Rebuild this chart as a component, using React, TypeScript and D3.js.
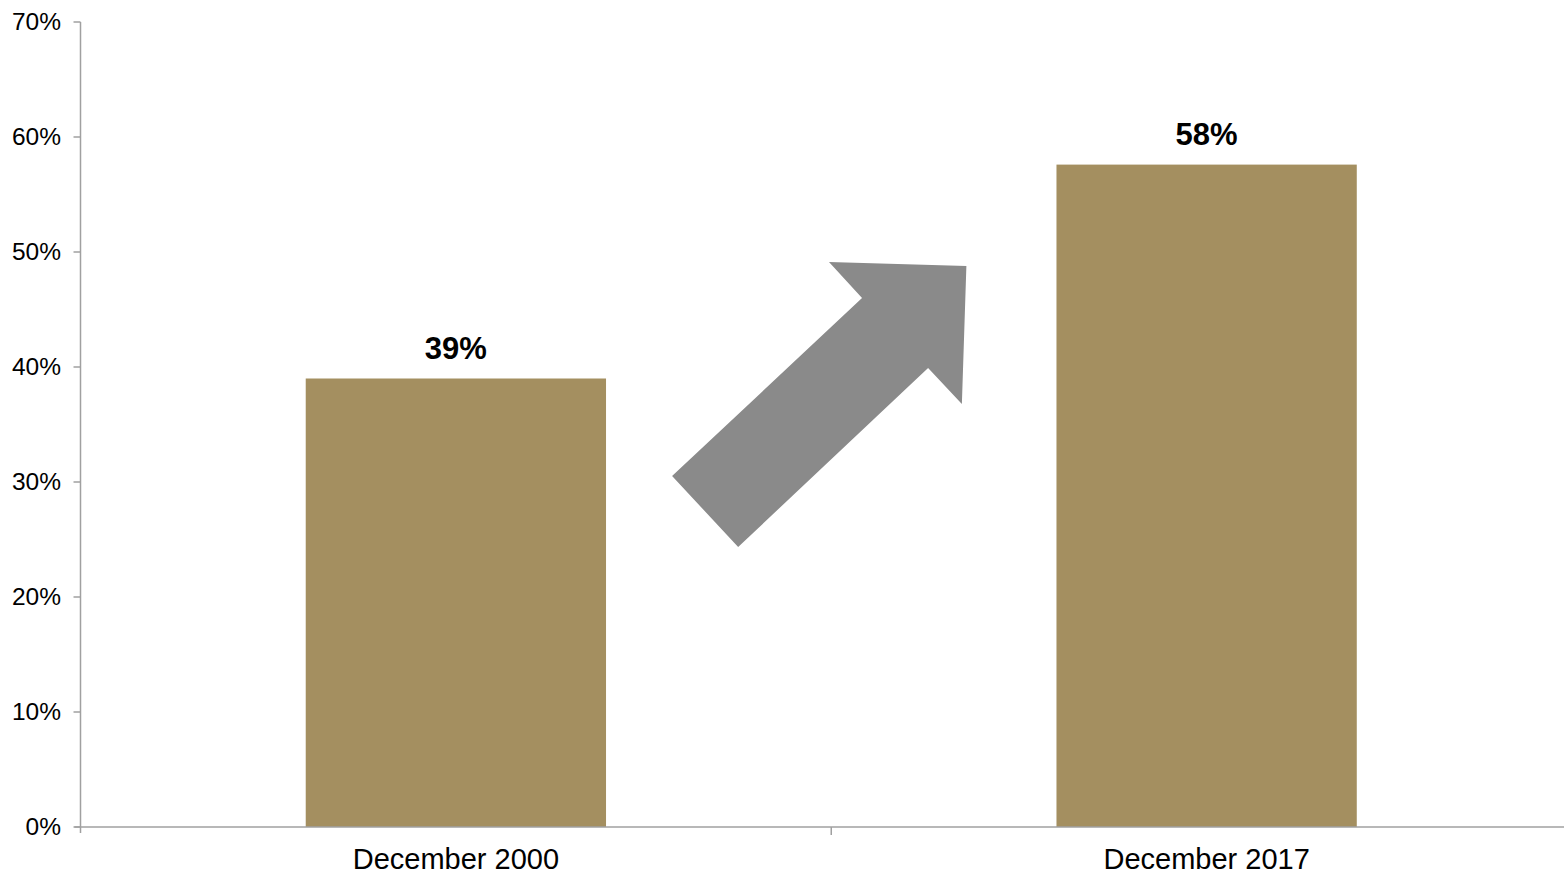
import React from "react";
import * as d3 from "d3";

const categories = ["December 2000", "December 2017"];
const values = [39.0, 57.6];
const valueLabels = ["39%", "58%"];
const yTicks = [0, 10, 20, 30, 40, 50, 60, 70];

// Arrow annotation in data units: x in category-index units (0..2), y in percent
const arrowX = [0.997, 1.18, 1.174, 1.129, 0.876, 0.788, 1.041];
const arrowY = [49.13, 48.78, 36.78, 39.91, 24.35, 30.52, 46.0];

export default function App() {
  const W = 1564, H = 874;
  const left = 80.5, right = 1582, top = 22, bottom = 827;
  const x = d3.scaleBand<string>().domain(categories).range([left, right]).padding(0);
  const xu = d3.scaleLinear().domain([0, 2]).range([left, right]);
  const y = d3.scaleLinear().domain([0, 70]).range([bottom, top]);
  const bw = x.bandwidth() * 0.4;
  const axisColor = "#A0A0A0";
  const font = "Liberation Sans, Arial, sans-serif";
  const arrowPts = arrowX.map((v, i) => [xu(v), y(arrowY[i])] as [number, number]);
  const line = d3.line();

  return (
    <svg width={W} height={H} style={{ position: "absolute", left: 0, top: 0 }} fontFamily={font}>
      <rect x={0} y={0} width={W} height={H} fill="#fff" />
      {categories.map((c, i) => {
        const cx = x(c)! + x.bandwidth() / 2;
        return (
          <g key={c}>
            <rect x={cx - bw / 2} y={y(values[i])} width={bw} height={bottom - y(values[i])} fill="#A48F60" />
            <text x={cx} y={y(values[i]) - 20} textAnchor="middle" fontSize={31} fontWeight="bold" fill="#000">
              {valueLabels[i]}
            </text>
            <text x={cx} y={869} textAnchor="middle" fontSize={29} fill="#000">
              {c}
            </text>
          </g>
        );
      })}
      <path d={line(arrowPts)! + "Z"} fill="#8A8A8A" />
      <line x1={left} x2={left} y1={top} y2={bottom + 6} stroke={axisColor} strokeWidth={1.5} />
      <line x1={left - 6} x2={right} y1={bottom} y2={bottom} stroke={axisColor} strokeWidth={1.5} />
      {yTicks.map((t) => (
        <g key={t}>
          <line x1={left - 7} x2={left} y1={y(t)} y2={y(t)} stroke={axisColor} strokeWidth={1.5} />
          <text x={61} y={y(t) + 8} textAnchor="end" fontSize={24.5} fill="#000">
            {t}%
          </text>
        </g>
      ))}
      {categories.slice(1).map((c) => (
        <line key={c} x1={x(c)!} x2={x(c)!} y1={bottom} y2={bottom + 8} stroke={axisColor} strokeWidth={1.5} />
      ))}
    </svg>
  );
}
